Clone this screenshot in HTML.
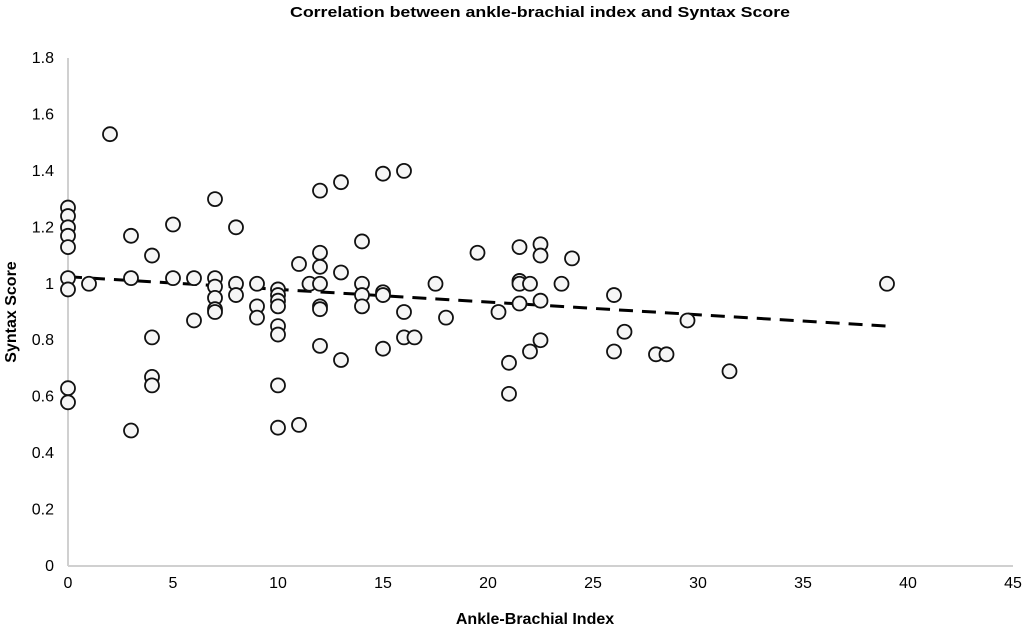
<!DOCTYPE html>
<html><head><meta charset="utf-8"><style>
body{margin:0;background:#fff}
svg{display:block;font-family:"Liberation Sans",sans-serif}
</style></head><body>
<svg id="chart" width="1024" height="629" viewBox="0 0 1024 629">
<text x="540" y="17" text-anchor="middle" font-size="15" font-weight="bold" textLength="500" lengthAdjust="spacingAndGlyphs">Correlation between ankle-brachial index and Syntax Score</text>
<g id="axes"></g>
<g id="points"></g>
<text x="535" y="624" text-anchor="middle" font-size="16" font-weight="bold">Ankle-Brachial Index</text>
<text transform="translate(16,312) rotate(-90)" text-anchor="middle" font-size="16" font-weight="bold">Syntax Score</text>
</svg>
<script>
const xTicks=[0,5,10,15,20,25,30,35,40,45];
const yTicks=[0,0.2,0.4,0.6,0.8,1,1.2,1.4,1.6,1.8];
const xVals=[0,0,0,0,0,0,0,0,0,1,2,3,3,3,4,4,4,4,5,5,6,6,7,7,7,7,7,7,8,8,8,9,9,9,10,10,10,10,10,10,10,10,11,11,11.5,12,12,12,12,12,12,12,13,13,13,14,14,14,14,15,15,15,15,16,16,16,16.5,17.5,18,19.5,20.5,21,21,21.5,21.5,21.5,21.5,22,22,22.5,22.5,22.5,22.5,23.5,24,26,26,26.5,28,28.5,29.5,31.5,39];
const yVals=[1.27,1.24,1.20,1.17,1.13,1.02,0.98,0.63,0.58,1.0,1.53,1.17,1.02,0.48,1.10,0.81,0.67,0.64,1.21,1.02,1.02,0.87,1.30,1.02,0.99,0.95,0.91,0.90,1.20,1.00,0.96,1.00,0.92,0.88,0.98,0.96,0.94,0.92,0.85,0.82,0.64,0.49,1.07,0.50,1.00,1.33,1.11,1.06,1.00,0.92,0.91,0.78,1.36,1.04,0.73,1.15,1.00,0.96,0.92,1.39,0.97,0.96,0.77,1.40,0.90,0.81,0.81,1.00,0.88,1.11,0.90,0.72,0.61,1.13,1.01,1.00,0.93,1.00,0.76,1.14,1.10,0.94,0.80,1.00,1.09,0.96,0.76,0.83,0.75,0.75,0.87,0.69,1.00];
const trendX=[0,39];
const trendY=[1.025,0.85];
const X0=68,X1=1013,Y0=566,Y1=58;
const sx=v=>X0+(v-0)/45*(X1-X0);
const sy=v=>Y0-(v/1.8)*(Y0-Y1);
const NS="http://www.w3.org/2000/svg";
const axes=document.getElementById('axes'),pts=document.getElementById('points');
function mk(tag,attrs,parent){const e=document.createElementNS(NS,tag);for(const k in attrs)e.setAttribute(k,attrs[k]);parent.appendChild(e);return e;}
let l=mk('line',{x1:X0,y1:Y1,x2:X0,y2:Y0,stroke:'#d0d0d0','stroke-width':2},axes);


l=mk('line',{x1:X0,y1:Y0,x2:X1,y2:Y0,stroke:'#d0d0d0','stroke-width':2},axes);


xTicks.forEach(t=>{const e=mk('text',{x:sx(t),y:Y0+22,'text-anchor':'middle','font-size':16},axes);e.textContent=t;

});
yTicks.forEach(t=>{const e=mk('text',{x:X0-14,y:sy(t)+5,'text-anchor':'end','font-size':16},axes);e.textContent=String(Math.round(t*10)/10);

});
const tl=mk('line',{x1:sx(trendX[0]),y1:sy(trendY[0]),x2:sx(trendX[1]),y2:sy(trendY[1]),stroke:'#000','stroke-width':3,'stroke-dasharray':'14,9'},pts);


xVals.forEach((x,i)=>{const c=mk('circle',{cx:sx(x),cy:sy(yVals[i]),r:7,fill:'#f6f6f6',stroke:'#111','stroke-width':1.8},pts);

});
</script>
</body></html>
